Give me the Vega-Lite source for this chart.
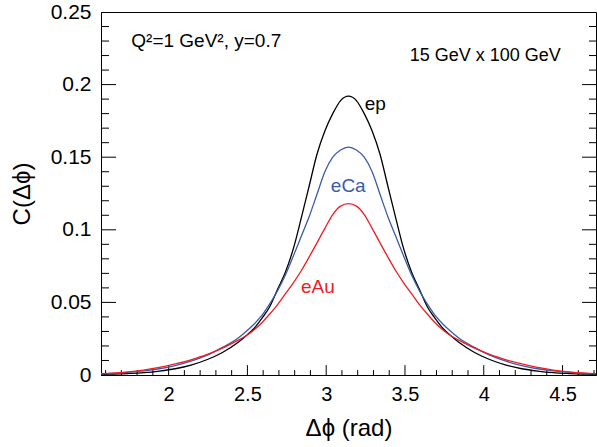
{
  "$schema": "https://vega.github.io/schema/vega-lite/v6.json",
  "width": 495,
  "height": 363,
  "autosize": {"type": "none"},
  "padding": {"left": 101, "top": 12, "right": 1, "bottom": 72},
  "background": "white",
  "config": {
    "view": {"stroke": "black", "strokeWidth": 1},
    "font": "Liberation Sans",
    "axis": {"grid": false, "labelFont": "Liberation Sans", "titleFont": "Liberation Sans", "labelColor": "black", "titleColor": "black", "domainColor": "black", "titleFontWeight": "normal"}
  },
  "datasets": {
    "curves": [
      {"x": 1.5708, "ep": 0.0004, "eCa": 0.0008, "eAu": 0.001},
      {"x": 1.6416, "ep": 0.0006, "eCa": 0.0011, "eAu": 0.0013},
      {"x": 1.7416, "ep": 0.001, "eCa": 0.0018, "eAu": 0.0021},
      {"x": 1.8416, "ep": 0.0016, "eCa": 0.0028, "eAu": 0.0034},
      {"x": 1.9416, "ep": 0.0027, "eCa": 0.0043, "eAu": 0.0052},
      {"x": 2.0416, "ep": 0.0043, "eCa": 0.0065, "eAu": 0.0076},
      {"x": 2.1416, "ep": 0.0068, "eCa": 0.0095, "eAu": 0.0105},
      {"x": 2.2416, "ep": 0.0105, "eCa": 0.0135, "eAu": 0.014},
      {"x": 2.3416, "ep": 0.0155, "eCa": 0.019, "eAu": 0.0185},
      {"x": 2.4416, "ep": 0.0225, "eCa": 0.0255, "eAu": 0.024},
      {"x": 2.4916, "ep": 0.027, "eCa": 0.030, "eAu": 0.027},
      {"x": 2.5416, "ep": 0.032, "eCa": 0.035, "eAu": 0.031},
      {"x": 2.5916, "ep": 0.039, "eCa": 0.041, "eAu": 0.036},
      {"x": 2.6416, "ep": 0.047, "eCa": 0.049, "eAu": 0.042},
      {"x": 2.6916, "ep": 0.059, "eCa": 0.058, "eAu": 0.0485},
      {"x": 2.7416, "ep": 0.071, "eCa": 0.069, "eAu": 0.056},
      {"x": 2.7916, "ep": 0.087, "eCa": 0.082, "eAu": 0.0635},
      {"x": 2.8416, "ep": 0.108, "eCa": 0.0955, "eAu": 0.0718},
      {"x": 2.8916, "ep": 0.130, "eCa": 0.109, "eAu": 0.0812},
      {"x": 2.9416, "ep": 0.152, "eCa": 0.1245, "eAu": 0.091},
      {"x": 2.9916, "ep": 0.168, "eCa": 0.140, "eAu": 0.101},
      {"x": 3.0416, "ep": 0.180, "eCa": 0.150, "eAu": 0.1105},
      {"x": 3.0916, "ep": 0.189, "eCa": 0.155, "eAu": 0.1163},
      {"x": 3.1416, "ep": 0.192, "eCa": 0.157, "eAu": 0.118},
      {"x": 3.1916, "ep": 0.189, "eCa": 0.155, "eAu": 0.1163},
      {"x": 3.2416, "ep": 0.180, "eCa": 0.150, "eAu": 0.1105},
      {"x": 3.2916, "ep": 0.168, "eCa": 0.140, "eAu": 0.101},
      {"x": 3.3416, "ep": 0.152, "eCa": 0.1245, "eAu": 0.091},
      {"x": 3.3916, "ep": 0.130, "eCa": 0.109, "eAu": 0.0812},
      {"x": 3.4416, "ep": 0.108, "eCa": 0.0955, "eAu": 0.0718},
      {"x": 3.4916, "ep": 0.087, "eCa": 0.082, "eAu": 0.0635},
      {"x": 3.5416, "ep": 0.071, "eCa": 0.069, "eAu": 0.056},
      {"x": 3.5916, "ep": 0.059, "eCa": 0.058, "eAu": 0.0485},
      {"x": 3.6416, "ep": 0.047, "eCa": 0.049, "eAu": 0.042},
      {"x": 3.6916, "ep": 0.039, "eCa": 0.041, "eAu": 0.036},
      {"x": 3.7416, "ep": 0.032, "eCa": 0.035, "eAu": 0.031},
      {"x": 3.7916, "ep": 0.027, "eCa": 0.030, "eAu": 0.027},
      {"x": 3.8416, "ep": 0.0225, "eCa": 0.0255, "eAu": 0.024},
      {"x": 3.9416, "ep": 0.0155, "eCa": 0.019, "eAu": 0.0185},
      {"x": 4.0416, "ep": 0.0105, "eCa": 0.0135, "eAu": 0.014},
      {"x": 4.1416, "ep": 0.0068, "eCa": 0.0095, "eAu": 0.0105},
      {"x": 4.2416, "ep": 0.0043, "eCa": 0.0065, "eAu": 0.0076},
      {"x": 4.3416, "ep": 0.0027, "eCa": 0.0043, "eAu": 0.0052},
      {"x": 4.4416, "ep": 0.0016, "eCa": 0.0028, "eAu": 0.0034},
      {"x": 4.5416, "ep": 0.001, "eCa": 0.0018, "eAu": 0.0021},
      {"x": 4.6416, "ep": 0.0006, "eCa": 0.0011, "eAu": 0.0013},
      {"x": 4.7124, "ep": 0.0004, "eCa": 0.0008, "eAu": 0.001}
    ],
    "xMajor": [{"v": 2}, {"v": 2.5}, {"v": 3}, {"v": 3.5}, {"v": 4}, {"v": 4.5}],
    "xMinor": [{"v": 1.6}, {"v": 1.7}, {"v": 1.8}, {"v": 1.9}, {"v": 2.1}, {"v": 2.2}, {"v": 2.3}, {"v": 2.4}, {"v": 2.6}, {"v": 2.7}, {"v": 2.8}, {"v": 2.9}, {"v": 3.1}, {"v": 3.2}, {"v": 3.3}, {"v": 3.4}, {"v": 3.6}, {"v": 3.7}, {"v": 3.8}, {"v": 3.9}, {"v": 4.1}, {"v": 4.2}, {"v": 4.3}, {"v": 4.4}, {"v": 4.6}, {"v": 4.7}],
    "yMajor": [{"v": 0.05}, {"v": 0.1}, {"v": 0.15}, {"v": 0.2}],
    "yMinor": [{"v": 0.01}, {"v": 0.02}, {"v": 0.03}, {"v": 0.04}, {"v": 0.06}, {"v": 0.07}, {"v": 0.08}, {"v": 0.09}, {"v": 0.11}, {"v": 0.12}, {"v": 0.13}, {"v": 0.14}, {"v": 0.16}, {"v": 0.17}, {"v": 0.18}, {"v": 0.19}, {"v": 0.21}, {"v": 0.22}, {"v": 0.23}, {"v": 0.24}]
  },
  "resolve": {"scale": {"x": "shared", "y": "shared"}, "axis": {"x": "independent", "y": "independent"}},
  "layer": [
    {
      "data": {"name": "xMajor"},
      "mark": {"type": "rule", "color": "black", "strokeWidth": 1},
      "encoding": {"x": {"field": "v", "type": "quantitative", "axis": null}, "y": {"datum": 0, "type": "quantitative", "axis": null}, "y2": {"datum": 0.0068}}
    },
    {
      "data": {"name": "xMinor"},
      "mark": {"type": "rule", "color": "black", "strokeWidth": 1},
      "encoding": {"x": {"field": "v", "type": "quantitative", "axis": null}, "y": {"datum": 0, "type": "quantitative", "axis": null}, "y2": {"datum": 0.0034}}
    },
    {
      "data": {"name": "yMajor"},
      "mark": {"type": "rule", "color": "black", "strokeWidth": 1},
      "encoding": {"y": {"field": "v", "type": "quantitative", "axis": null}, "x": {"datum": 1.5708, "type": "quantitative", "axis": null}, "x2": {"datum": 1.6661}}
    },
    {
      "data": {"name": "yMinor"},
      "mark": {"type": "rule", "color": "black", "strokeWidth": 1},
      "encoding": {"y": {"field": "v", "type": "quantitative", "axis": null}, "x": {"datum": 1.5708, "type": "quantitative", "axis": null}, "x2": {"datum": 1.6216}}
    },
    {
      "data": {"name": "yMajor"},
      "mark": {"type": "rule", "color": "black", "strokeWidth": 1},
      "encoding": {"y": {"field": "v", "type": "quantitative", "axis": null}, "x": {"datum": 4.6235, "type": "quantitative", "axis": null}, "x2": {"datum": 4.7124}}
    },
    {
      "data": {"name": "yMinor"},
      "mark": {"type": "rule", "color": "black", "strokeWidth": 1},
      "encoding": {"y": {"field": "v", "type": "quantitative", "axis": null}, "x": {"datum": 4.6679, "type": "quantitative", "axis": null}, "x2": {"datum": 4.7124}}
    },
    {
      "data": {"name": "curves"},
      "transform": [{"fold": ["ep", "eCa", "eAu"], "as": ["series", "C"]}],
      "mark": {"type": "line", "interpolate": "monotone", "strokeWidth": 1.3, "clip": true},
      "encoding": {
        "x": {"field": "x", "type": "quantitative",
          "scale": {"domain": [1.5708, 4.7124], "nice": false, "zero": false},
          "axis": {"orient": "bottom", "values": [2, 2.5, 3, 3.5, 4, 4.5], "format": "~g", "ticks": false, "domain": true, "labelFontSize": 20, "labelPadding": 9, "title": "Δϕ (rad)", "titleFontSize": 24, "titlePadding": 12}},
        "y": {"field": "C", "type": "quantitative",
          "scale": {"domain": [0, 0.25], "nice": false, "zero": true},
          "axis": {"orient": "left", "values": [0, 0.05, 0.1, 0.15, 0.2, 0.25], "format": "~g", "ticks": false, "domain": true, "labelFontSize": 21, "labelPadding": 10, "title": "C(Δϕ)", "titleFontSize": 24, "titlePadding": 16}},
        "color": {"field": "series", "type": "nominal", "scale": {"domain": ["ep", "eCa", "eAu"], "range": ["#000000", "#3a5aab", "#ee1c25"]}, "legend": null},
        "detail": {"field": "series"}
      }
    },
    {
      "data": {"values": [{}]},
      "mark": {"type": "text", "text": "ep", "align": "left", "baseline": "alphabetic", "fontSize": 19, "color": "black"},
      "encoding": {"x": {"datum": 3.245, "type": "quantitative", "axis": null}, "y": {"datum": 0.1825, "type": "quantitative", "axis": null}}
    },
    {
      "data": {"values": [{}]},
      "mark": {"type": "text", "text": "eCa", "align": "center", "baseline": "alphabetic", "fontSize": 19, "color": "#3a5aab"},
      "encoding": {"x": {"datum": 3.14, "type": "quantitative", "axis": null}, "y": {"datum": 0.126, "type": "quantitative", "axis": null}}
    },
    {
      "data": {"values": [{}]},
      "mark": {"type": "text", "text": "eAu", "align": "center", "baseline": "alphabetic", "fontSize": 19, "color": "#ee1c25"},
      "encoding": {"x": {"datum": 2.947, "type": "quantitative", "axis": null}, "y": {"datum": 0.0565, "type": "quantitative", "axis": null}}
    },
    {
      "data": {"values": [{}]},
      "mark": {"type": "text", "text": "Q²=1 GeV², y=0.7", "align": "left", "baseline": "alphabetic", "fontSize": 19, "color": "black"},
      "encoding": {"x": {"datum": 1.763, "type": "quantitative", "axis": null}, "y": {"datum": 0.2261, "type": "quantitative", "axis": null}}
    },
    {
      "data": {"values": [{}]},
      "mark": {"type": "text", "text": "15 GeV x 100 GeV", "align": "left", "baseline": "alphabetic", "fontSize": 18, "color": "black"},
      "encoding": {"x": {"datum": 3.53, "type": "quantitative", "axis": null}, "y": {"datum": 0.2165, "type": "quantitative", "axis": null}}
    }
  ]
}
